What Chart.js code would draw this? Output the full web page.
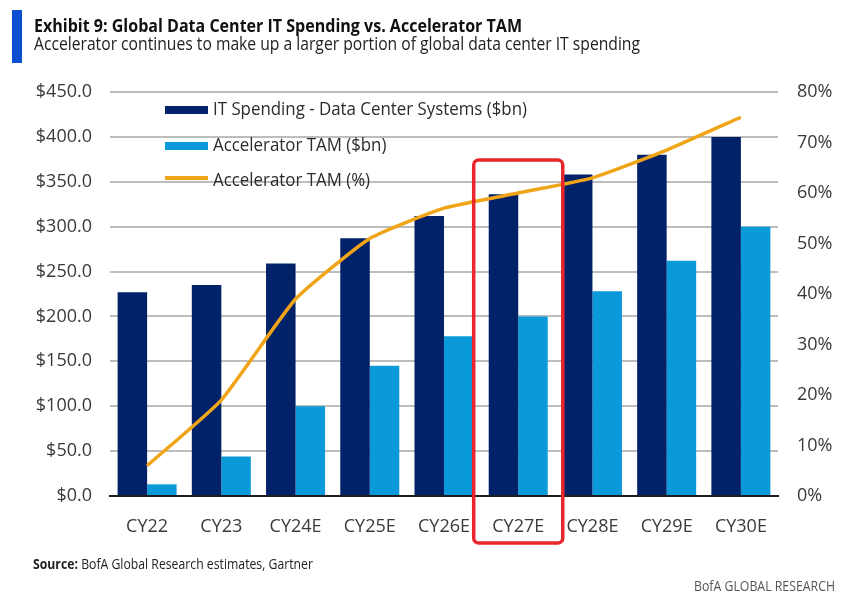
<!DOCTYPE html>
<html>
<head>
<meta charset="utf-8">
<script src="https://cdn.jsdelivr.net/npm/chart.js@4.4.1/dist/chart.umd.min.js"></script>
<style>
    body { margin: 0; width: 865px; height: 609px; background: #fff; position: relative; overflow: hidden;
           font-family: "Open Sans", sans-serif; }
    #wrap { position: absolute; left: 0; top: 0; width: 865px; height: 609px; }
    .accent { position: absolute; left: 12px; top: 10px; width: 10px; height: 53px; background: #0b4fd0; }
    .fit { position: absolute; white-space: nowrap; transform-origin: left top; }
    .title { left: 34px; top: 16px; font-size: 18px; line-height: 19px; font-weight: bold; color: #111; }
    .subtitle { left: 34px; top: 34px; font-size: 18px; line-height: 19px; color: #222; }
    .source { left: 33px; top: 556px; font-size: 14px; line-height: 16px; color: #222; }
    .brand { left: 694px; top: 578px; font-size: 14px; line-height: 16px; color: #555; }
</style>
</head>
<body>
<div id="wrap"><canvas id="chart" width="865" height="609"></canvas></div>
<div class="accent"></div>
<div class="fit title" data-w="488">Exhibit 9: Global Data Center IT Spending vs. Accelerator TAM</div>
<div class="fit subtitle" data-w="606">Accelerator continues to make up a larger portion of global data center IT spending</div>
<div class="fit source" data-w="280"><b>Source:</b> BofA Global Research estimates, Gartner</div>
<div class="fit brand" data-w="141">BofA GLOBAL RESEARCH</div>
<script>
// Data
const years = ['CY22', 'CY23', 'CY24E', 'CY25E', 'CY26E', 'CY27E', 'CY28E', 'CY29E', 'CY30E'];
const itSpending = [227, 235, 259, 287, 312, 336, 358, 380, 400];
const acceleratorTam = [13, 44, 100, 145, 178, 200, 228, 262, 300];
const acceleratorPct = [6, 19, 39, 51, 57, 60, 63, 68.5, 75];
const highlightIndex = 5; // CY27E

const colors = {
    navy: '#012169',
    sky: '#0a9ad9',
    gold: '#f0a417',
    grid: '#bdbdbd',
    text: '#3a3a3a',
    red: '#e8262b'
};

const tickFont = { family: '"Open Sans", sans-serif', size: 18 };

// the header font is condensed; squeeze text to its width in the picture
document.querySelectorAll('.fit').forEach(el => {
    const w = el.getBoundingClientRect().width;
    el.style.transform = 'scaleX(' + (el.dataset.w / w) + ')';
});

// legend drawn inside the plot, stacked vertically, no background
const insideLegend = {
    id: 'insideLegend',
    beforeDatasetsDraw(chart) {
        const ctx = chart.ctx;
        const baselines = [115, 151, 186];
        ctx.save();
        ctx.font = '19px "Open Sans", sans-serif';
        ctx.textBaseline = 'alphabetic';
        const squeeze = 314 / ctx.measureText(chart.data.datasets[0].label).width;
        chart.data.datasets.forEach((ds, i) => {
            const y = baselines[i];
            if (ds.type === 'line') {
                ctx.strokeStyle = ds.borderColor;
                ctx.lineWidth = 4;
                ctx.beginPath();
                ctx.moveTo(165, y - 8);
                ctx.lineTo(208, y - 8);
                ctx.stroke();
            } else {
                ctx.fillStyle = ds.backgroundColor;
                ctx.fillRect(165, y - 9, 43, 8);
            }
            ctx.save();
            ctx.translate(213, y);
            ctx.scale(squeeze, 1);
            ctx.fillStyle = '#2b2b2b';
            ctx.fillText(ds.label, 0, 0);
            ctx.restore();
        });
        ctx.restore();
    }
};

// red box round the highlighted year
const highlightBox = {
    id: 'highlightBox',
    afterDraw(chart) {
        const x = chart.scales.x;
        const area = chart.chartArea;
        const cx = x.getPixelForValue(highlightIndex);
        const half = (area.right - area.left) / years.length * 0.6;
        const ctx = chart.ctx;
        ctx.save();
        ctx.strokeStyle = colors.red;
        ctx.lineWidth = 3.5;
        ctx.beginPath();
        ctx.roundRect(cx - half, area.top + 68, half * 2, area.bottom - area.top - 68 + 47, 5);
        ctx.stroke();
        ctx.restore();
    }
};

new Chart(document.getElementById('chart'), {
    data: {
        labels: years,
        datasets: [
            {
                type: 'bar',
                label: 'IT Spending - Data Center Systems ($bn)',
                data: itSpending,
                backgroundColor: colors.navy,
                yAxisID: 'y',
                order: 2
            },
            {
                type: 'bar',
                label: 'Accelerator TAM ($bn)',
                data: acceleratorTam,
                backgroundColor: colors.sky,
                yAxisID: 'y',
                order: 2
            },
            {
                type: 'line',
                label: 'Accelerator TAM (%)',
                data: acceleratorPct,
                borderColor: colors.gold,
                borderWidth: 3.5,
                pointRadius: 0,
                tension: 0.15,
                yAxisID: 'y1',
                order: 1
            }
        ]
    },
    options: {
        responsive: false,
        animation: false,
        layout: { padding: { top: 92, bottom: 0, left: 0, right: 0 } },
        datasets: {
            bar: { barPercentage: 1, categoryPercentage: 0.795 }
        },
        plugins: {
            legend: { display: false },
            tooltip: { enabled: false }
        },
        scales: {
            x: {
                grid: { display: false },
                border: { display: true, color: '#1e1e1e', width: 2 },
                ticks: { color: colors.text, font: tickFont, padding: 12, maxRotation: 0 },
                afterFit: s => { s.height = 113; }
            },
            y: {
                position: 'left',
                min: 0,
                max: 450,
                grid: { color: colors.grid, lineWidth: 2, drawTicks: false },
                border: { display: false },
                ticks: {
                    stepSize: 50,
                    color: colors.text,
                    font: tickFont,
                    padding: 18,
                    callback: v => '$' + v.toFixed(1)
                },
                afterFit: s => { s.width = 110; }
            },
            y1: {
                position: 'right',
                min: 0,
                max: 80,
                grid: { display: false, drawTicks: false },
                border: { display: false },
                ticks: {
                    stepSize: 10,
                    color: colors.text,
                    font: tickFont,
                    padding: 19,
                    callback: v => v + '%'
                },
                afterFit: s => { s.width = 87; }
            }
        }
    },
    plugins: [insideLegend, highlightBox]
});
</script>
</body>
</html>
